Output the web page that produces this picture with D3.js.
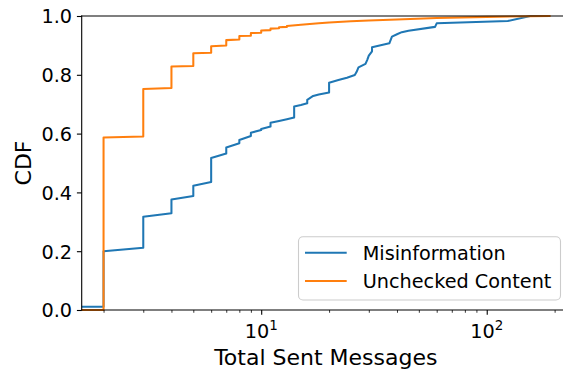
<!DOCTYPE html>
<html>
<head>
<meta charset="utf-8">
<script src="https://cdn.jsdelivr.net/npm/d3@7"></script>
<style>
  html, body { margin: 0; padding: 0; background: #fff; }
  svg { display: block; font-family: "DejaVu Sans", sans-serif; }
</style>
</head>
<body>
<svg id="chart" width="563" height="369"></svg>
<script>
// Empirical CDF of messages sent per user, as [messages, cumulative fraction].
// A value of 0 messages sits off the left of the log axis and is clipped.
const misinformation = [
  [0, 0.011], [2, 0.011], [2, 0.200], [3, 0.212], [3, 0.317], [4, 0.329], [4, 0.376],
  [5, 0.388], [5, 0.423], [6, 0.435], [6, 0.517], [7, 0.532], [7, 0.553],
  [8, 0.567], [8, 0.578], [9, 0.592], [9, 0.603], [10, 0.612], [10, 0.616],
  [11, 0.624], [11, 0.637], [12, 0.643], [13, 0.649], [14, 0.655], [14, 0.692],
  [15, 0.697], [16, 0.703], [16, 0.715], [17, 0.728], [18, 0.733], [20, 0.740],
  [20, 0.773], [22, 0.782], [24, 0.790], [26, 0.799], [26.5, 0.810], [27, 0.825],
  [29, 0.837], [29.5, 0.850], [30, 0.865], [31, 0.880], [31, 0.894], [37, 0.907],
  [38, 0.930], [40, 0.938], [42, 0.945], [45, 0.950], [59, 0.963], [60, 0.975],
  [124, 0.983], [156, 1.0], [187, 1.0]
];
const uncheckedContent = [
  [0, 0], [2, 0], [2, 0.587], [3, 0.590], [3, 0.752], [4, 0.755], [4, 0.828],
  [5, 0.830], [5, 0.873], [6, 0.875], [6, 0.897], [7, 0.900], [7, 0.918],
  [8, 0.920], [8, 0.932], [9, 0.933], [9, 0.942], [10, 0.943], [10, 0.951],
  [11, 0.952], [11, 0.957], [12, 0.958], [12, 0.962], [13, 0.963], [13, 0.966],
  [15, 0.970], [18, 0.975], [20, 0.978], [25, 0.982], [30, 0.985], [40, 0.988],
  [60, 0.993], [100, 0.997], [190, 1.0]
];
const seriesNames = ["Misinformation", "Unchecked Content"];
const seriesColors = ["#1f77b4", "#ff7f0e"];
const yTicks = [0, 0.2, 0.4, 0.6, 0.8, 1.0];
const xMajorTicks = [10, 100];
const xMinorTicks = [2, 3, 4, 5, 6, 7, 8, 9, 20, 30, 40, 50, 60, 70, 80, 90, 200];
const xDomain = [1.6, 234];
const xLabel = "Total Sent Messages";
const yLabel = "CDF";

const svg = d3.select("#chart");
const plot = { left: 81.7, right: 570, top: 16, bottom: 310 };
const tickFont = 19.25, labelFont = 22;

const x = d3.scaleLog().domain(xDomain).range([plot.left, plot.right]);
const y = d3.scaleLinear().domain([0, 1]).range([plot.bottom, plot.top]);

svg.append("defs").append("clipPath").attr("id", "plot-clip")
  .append("rect")
  .attr("x", plot.left).attr("y", plot.top - 2)
  .attr("width", plot.right - plot.left).attr("height", plot.bottom - plot.top + 4);

// CDF curves (orange drawn last so it sits on top)
const line = d3.line()
  .x(d => x(Math.max(d[0], 1e-3)))
  .y(d => y(d[1]));

[misinformation, uncheckedContent].forEach((data, i) => {
  svg.append("path")
    .datum(data)
    .attr("clip-path", "url(#plot-clip)")
    .attr("fill", "none")
    .attr("stroke", seriesColors[i])
    .attr("stroke-width", 2.05)
    .attr("stroke-linejoin", "round")
    .attr("stroke-linecap", "square")
    .attr("d", line);
});

// Spines
const spine = svg.append("g").attr("stroke", "#000").attr("stroke-width", 1.1)
  .attr("stroke-linecap", "square");
spine.append("line").attr("x1", plot.left).attr("x2", plot.left)
  .attr("y1", plot.top).attr("y2", plot.bottom);
spine.append("line").attr("x1", plot.left).attr("x2", plot.right)
  .attr("y1", plot.bottom).attr("y2", plot.bottom);
spine.append("line").attr("x1", plot.left).attr("x2", plot.right)
  .attr("y1", plot.top).attr("y2", plot.top);

// Y axis
const yAxis = svg.append("g").attr("transform", `translate(${plot.left},0)`)
  .call(d3.axisLeft(y).tickValues(yTicks).tickFormat(d3.format(".1f"))
    .tickSize(4.8).tickPadding(4.8));
yAxis.select(".domain").remove();
yAxis.selectAll(".tick line").attr("stroke-width", 1.1);
yAxis.selectAll(".tick text")
  .attr("font-size", tickFont).attr("font-family", "DejaVu Sans")
  .attr("fill", "#000").attr("dy", "0.36em");

// X axis: major ticks with 10^n labels, minor ticks unlabeled
const xAxis = svg.append("g").attr("transform", `translate(0,${plot.bottom})`)
  .call(d3.axisBottom(x).tickValues(xMajorTicks).tickFormat("")
    .tickSize(4.8));
xAxis.select(".domain").remove();
xAxis.selectAll(".tick line").attr("stroke-width", 1.1);

const xMinor = svg.append("g").attr("transform", `translate(0,${plot.bottom})`)
  .call(d3.axisBottom(x).tickValues(xMinorTicks).tickFormat("").tickSize(2.75));
xMinor.select(".domain").remove();
xMinor.selectAll(".tick line").attr("stroke-width", 0.8);

const xl = svg.append("g");
xMajorTicks.forEach(v => {
  const t = xl.append("text")
    .attr("x", x(v)).attr("y", 338)
    .attr("text-anchor", "middle")
    .attr("font-size", tickFont).attr("fill", "#000");
  t.append("tspan").text("10");
  t.append("tspan").attr("font-size", tickFont * 0.7).attr("dy", -8)
    .text(String(Math.round(Math.log10(v))));
});

// Axis titles
svg.append("text")
  .attr("x", (plot.left + plot.right) / 2).attr("y", 364.5)
  .attr("text-anchor", "middle").attr("font-size", labelFont).attr("fill", "#000")
  .text(xLabel);
svg.append("text")
  .attr("transform", `translate(31,${(plot.top + plot.bottom) / 2}) rotate(-90)`)
  .attr("text-anchor", "middle").attr("font-size", labelFont).attr("fill", "#000")
  .text(yLabel);

// Legend
const legend = svg.append("g");
legend.append("rect")
  .attr("x", 298.5).attr("y", 236.7).attr("width", 262).attr("height", 63.3)
  .attr("rx", 4.5).attr("ry", 4.5)
  .attr("fill", "#fff").attr("fill-opacity", 0.8)
  .attr("stroke", "#cccccc").attr("stroke-width", 1.1);
seriesNames.forEach((name, i) => {
  const ly = 252.7 + i * 28.3;
  legend.append("line")
    .attr("x1", 305).attr("x2", 346.7).attr("y1", ly).attr("y2", ly)
    .attr("stroke", seriesColors[i]).attr("stroke-width", 2.05);
  legend.append("text")
    .attr("x", 362.7).attr("y", ly + 7)
    .attr("font-size", tickFont).attr("fill", "#000")
    .text(name);
});
</script>
</body>
</html>
